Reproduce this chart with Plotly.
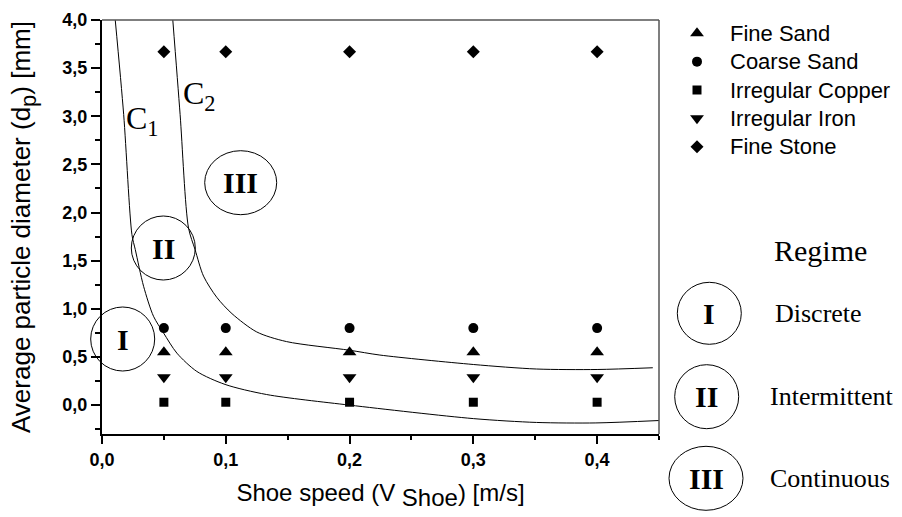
import plotly.graph_objects as go

# ---------------- data ----------------
speeds = [0.05, 0.1, 0.2, 0.3, 0.4]
series_names = ["Fine Sand", "Coarse Sand", "Irregular Copper", "Irregular Iron", "Fine Stone"]
series_symbols = ["triangle-up", "circle", "square", "triangle-down", "diamond"]
series_sizes = [12, 10, 9, 12, 10]
fine_sand = [0.55, 0.55, 0.55, 0.55, 0.55]
coarse_sand = [0.80, 0.80, 0.80, 0.80, 0.80]
irregular_copper = [0.03, 0.03, 0.03, 0.03, 0.03]
irregular_iron = [0.29, 0.29, 0.29, 0.29, 0.29]
fine_stone = [3.67, 3.67, 3.67, 3.67, 3.67]
series_values = [fine_sand, coarse_sand, irregular_copper, irregular_iron, fine_stone]

# boundary curves C1 and C2
c1_x = [0.0107, 0.0175, 0.0242, 0.0269, 0.0336, 0.0416, 0.0497, 0.0605, 0.0766, 0.0994, 0.133, 0.2, 0.3, 0.351, 0.399, 0.45]
c1_y = [4.0, 3.02, 1.77, 1.615, 1.234, 0.923, 0.75, 0.54, 0.35, 0.215, 0.11, 0.0, -0.14, -0.18, -0.185, -0.16]
c2_x = [0.0572, 0.0631, 0.0699, 0.0752, 0.082, 0.0927, 0.105, 0.125, 0.149, 0.2, 0.2245, 0.3, 0.351, 0.4, 0.445]
c2_y = [4.0, 3.02, 1.84, 1.615, 1.34, 1.12, 0.95, 0.76, 0.66, 0.57, 0.52, 0.422, 0.375, 0.37, 0.388]

regime_numerals = ["I", "II", "III"]
regime_names = ["Discrete", "Intermittent", "Continuous"]

x_ticks = [0.0, 0.1, 0.2, 0.3, 0.4]
y_ticks = [0.0, 0.5, 1.0, 1.5, 2.0, 2.5, 3.0, 3.5, 4.0]

# ---------------- layout geometry (pixels) ----------------
W, H = 902, 517
PX0, PX1, PY0, PY1 = 102, 659, 20, 434   # plot area: left, right, top, bottom
XR = [0.0, 0.45]
YR = [-0.3, 4.0]

SANS = "Liberation Sans, Arial, sans-serif"
SERIF = "Liberation Serif, Times New Roman, serif"


def fx(px):
    return px / W


def fy(py):
    return 1 - py / H


fig = go.Figure()

# curves
for cx, cy in [(c1_x, c1_y), (c2_x, c2_y)]:
    fig.add_trace(go.Scatter(x=cx, y=cy, mode="lines", line=dict(color="black", width=1, shape="spline", smoothing=0.8),
                             showlegend=False, hoverinfo="skip"))

# data markers
for name, sym, sz, vals in zip(series_names, series_symbols, series_sizes, series_values):
    fig.add_trace(go.Scatter(x=speeds, y=vals, mode="markers", name=name,
                             marker=dict(symbol=sym, size=sz, color="black"), showlegend=False))

# legend keys (drawn in a pixel-space helper axis on the right)
LEG_X, LEG_Y0, LEG_DY = 697, 33.3, 28.35
for i, (name, sym, sz) in enumerate(zip(series_names, series_symbols, series_sizes)):
    yy = LEG_Y0 + i * LEG_DY
    fig.add_trace(go.Scatter(x=[LEG_X], y=[yy], xaxis="x2", yaxis="y2", mode="markers", name=name,
                             marker=dict(symbol=sym, size=sz, color="black"), showlegend=False, hoverinfo="skip"))
    fig.add_annotation(x=fx(728), y=fy(yy), xref="paper", yref="paper", text=name, showarrow=False,
                       xanchor="left", yanchor="middle", font=dict(family=SANS, size=22, color="black"))

shapes = []
annotations = []

# frame top/right (grey, thin)
shapes.append(dict(type="line", xref="x domain", yref="y domain", x0=0, x1=1, y0=1, y1=1,
                   line=dict(color="#555555", width=1.5)))
shapes.append(dict(type="line", xref="x domain", yref="y domain", x0=1, x1=1, y0=0, y1=1,
                   line=dict(color="#555555", width=1.5)))


def ellipse(cx, cy, rx, ry):
    return dict(type="circle", xref="paper", yref="paper", x0=fx(cx - rx), x1=fx(cx + rx),
                y0=fy(cy + ry), y1=fy(cy - ry), line=dict(color="black", width=1))


# regime ellipses inside the plot
in_plot = [(122.7, 339, 32, 32), (163.3, 248, 32, 32), (240.7, 182.7, 36, 32)]
for (cx, cy, rx, ry), num in zip(in_plot, regime_numerals):
    shapes.append(ellipse(cx, cy, rx, ry))
    annotations.append(dict(x=fx(cx), y=fy(cy), xref="paper", yref="paper", text="<b>%s</b>" % num,
                            showarrow=False, xanchor="center", yanchor="middle",
                            font=dict(family=SERIF, size=30, color="black")))

# regime key
annotations.append(dict(x=fx(820), y=fy(250), xref="paper", yref="paper", text="Regime", showarrow=False,
                        xanchor="center", yanchor="middle", font=dict(family=SERIF, size=30, color="black")))
key = [(709.3, 313.3, 32, 31, 818), (706.7, 396.7, 32, 32, 832), (706, 478.3, 37, 32, 830)]
for (cx, cy, rx, ry, tx), num, nm in zip(key, regime_numerals, regime_names):
    shapes.append(ellipse(cx, cy, rx, ry))
    annotations.append(dict(x=fx(cx), y=fy(cy), xref="paper", yref="paper", text="<b>%s</b>" % num,
                            showarrow=False, xanchor="center", yanchor="middle",
                            font=dict(family=SERIF, size=30, color="black")))
    annotations.append(dict(x=fx(tx), y=fy(cy), xref="paper", yref="paper", text=nm,
                            showarrow=False, xanchor="center", yanchor="middle",
                            font=dict(family=SERIF, size=26, color="black")))

# curve labels
annotations.append(dict(x=0.0269, y=2.96, xref="x", yref="y", text="C<sub>1</sub>", showarrow=False,
                        xanchor="left", yanchor="middle", xshift=-11, font=dict(family=SERIF, size=32, color="black")))
annotations.append(dict(x=0.0726, y=3.22, xref="x", yref="y", text="C<sub>2</sub>", showarrow=False,
                        xanchor="left", yanchor="middle", xshift=-11, font=dict(family=SERIF, size=32, color="black")))

for a in annotations:
    fig.add_annotation(**a)

tickfont = dict(family=SANS, size=18, color="black", weight="bold")

fig.update_layout(
    width=W, height=H,
    margin=dict(l=0, r=0, t=0, b=0),
    paper_bgcolor="white", plot_bgcolor="white",
    showlegend=False,
    separators=",.",
    shapes=shapes,
    xaxis=dict(domain=[PX0 / W, PX1 / W], range=XR, tickvals=x_ticks, tickformat=".1f",
               showline=True, linecolor="black", linewidth=2, mirror=False, showgrid=False, zeroline=False,
               ticks="outside", ticklen=8, tickwidth=1.5, tickcolor="black", tickfont=tickfont,
               minor=dict(dtick=0.05, tick0=0, ticks="outside", ticklen=4, tickwidth=1.5, tickcolor="black"),
               title=dict(text="Shoe speed (V <sub><span style='font-size:24px'>Shoe</span></sub>) [m/s]",
                          font=dict(family=SANS, size=24, color="black"), standoff=16),
               automargin=False),
    yaxis=dict(domain=[1 - PY1 / H, 1 - PY0 / H], range=YR, tickvals=y_ticks, tickformat=".1f",
               showline=True, linecolor="black", linewidth=2, mirror=False, showgrid=False, zeroline=False,
               ticks="outside", ticklen=9, tickwidth=1.5, tickcolor="black", tickfont=tickfont,
               minor=dict(dtick=0.25, tick0=0, ticks="outside", ticklen=5, tickwidth=1.5, tickcolor="black"),
               title=dict(text="Average particle diameter (d<sub><span style='font-size:22px'>p</span></sub>) [mm]",
                          font=dict(family=SANS, size=26, color="black"), standoff=24),
               automargin=False),
    xaxis2=dict(domain=[PX1 / W, 1], range=[PX1, W], visible=False, fixedrange=True),
    yaxis2=dict(domain=[0, 1], range=[H, 0], visible=False, anchor="x2", fixedrange=True),
)

fig.write_html("out.html", config={"displayModeBar": False},
               post_script="document.body.style.margin='0px';document.body.style.overflow='hidden';")
